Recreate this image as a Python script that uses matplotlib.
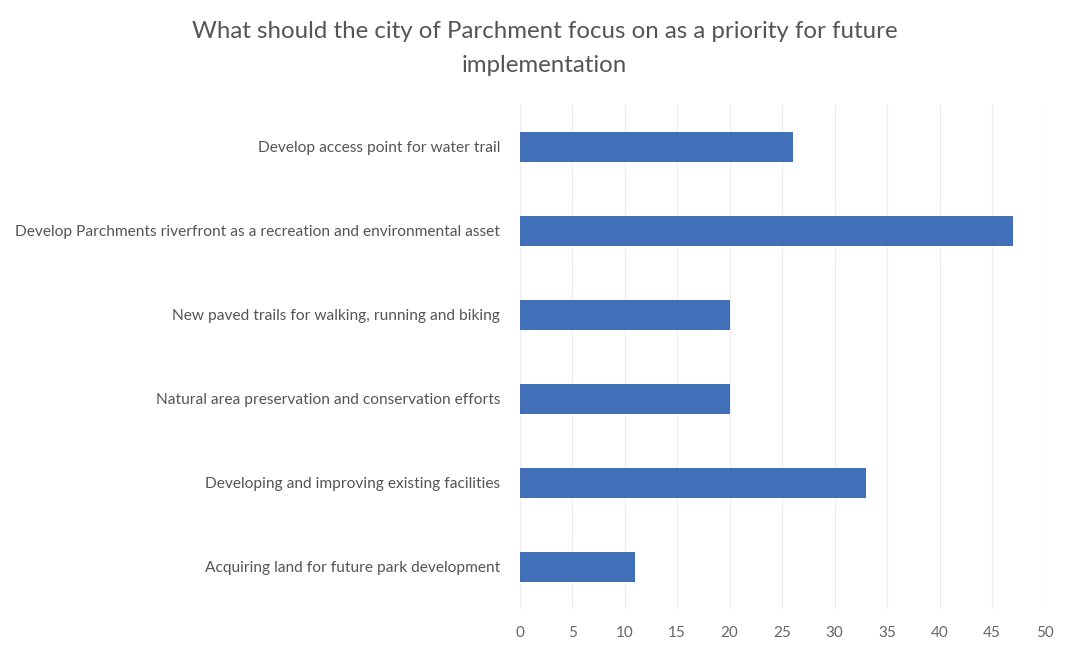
import matplotlib.pyplot as plt

categories = [
    "Develop access point for water trail",
    "Develop Parchments riverfront as a recreation and environmental asset",
    "New paved trails for walking, running and biking",
    "Natural area preservation and conservation efforts",
    "Developing and improving existing facilities",
    "Acquiring land for future park development",
]
values = [26, 47, 20, 20, 33, 11]
xticks = list(range(0, 55, 5))

plt.rcParams['font.family'] = ['Lato', 'DejaVu Sans']

fig = plt.figure(figsize=(10.78, 6.52), dpi=100)
ax = fig.add_axes([0.482, 0.066, 0.487, 0.773])

ypos = list(range(len(categories)))[::-1]
ax.barh(ypos, values, height=0.36, color='#4170B8', zorder=3)

ax.set_xlim(0, 50)
ax.set_ylim(-0.5, len(categories) - 0.5)
ax.set_xticks(xticks)
ax.set_yticks(ypos)
ax.set_yticklabels(categories, fontsize=11.2, color='#555555')
ax.tick_params(axis='x', labelsize=11, labelcolor='#666666', length=0, pad=12)
ax.tick_params(axis='y', length=0, pad=14)
ax.grid(axis='x', color='#ececec', linewidth=0.8, zorder=0)
for s in ax.spines.values():
    s.set_visible(False)

fig.text(0.505, 0.968, "What should the city of Parchment focus on as a priority for future\nimplementation",
         ha='center', va='top', fontsize=17.3, color='#555555', linespacing=1.75)

fig.savefig('out.png', dpi=100)
